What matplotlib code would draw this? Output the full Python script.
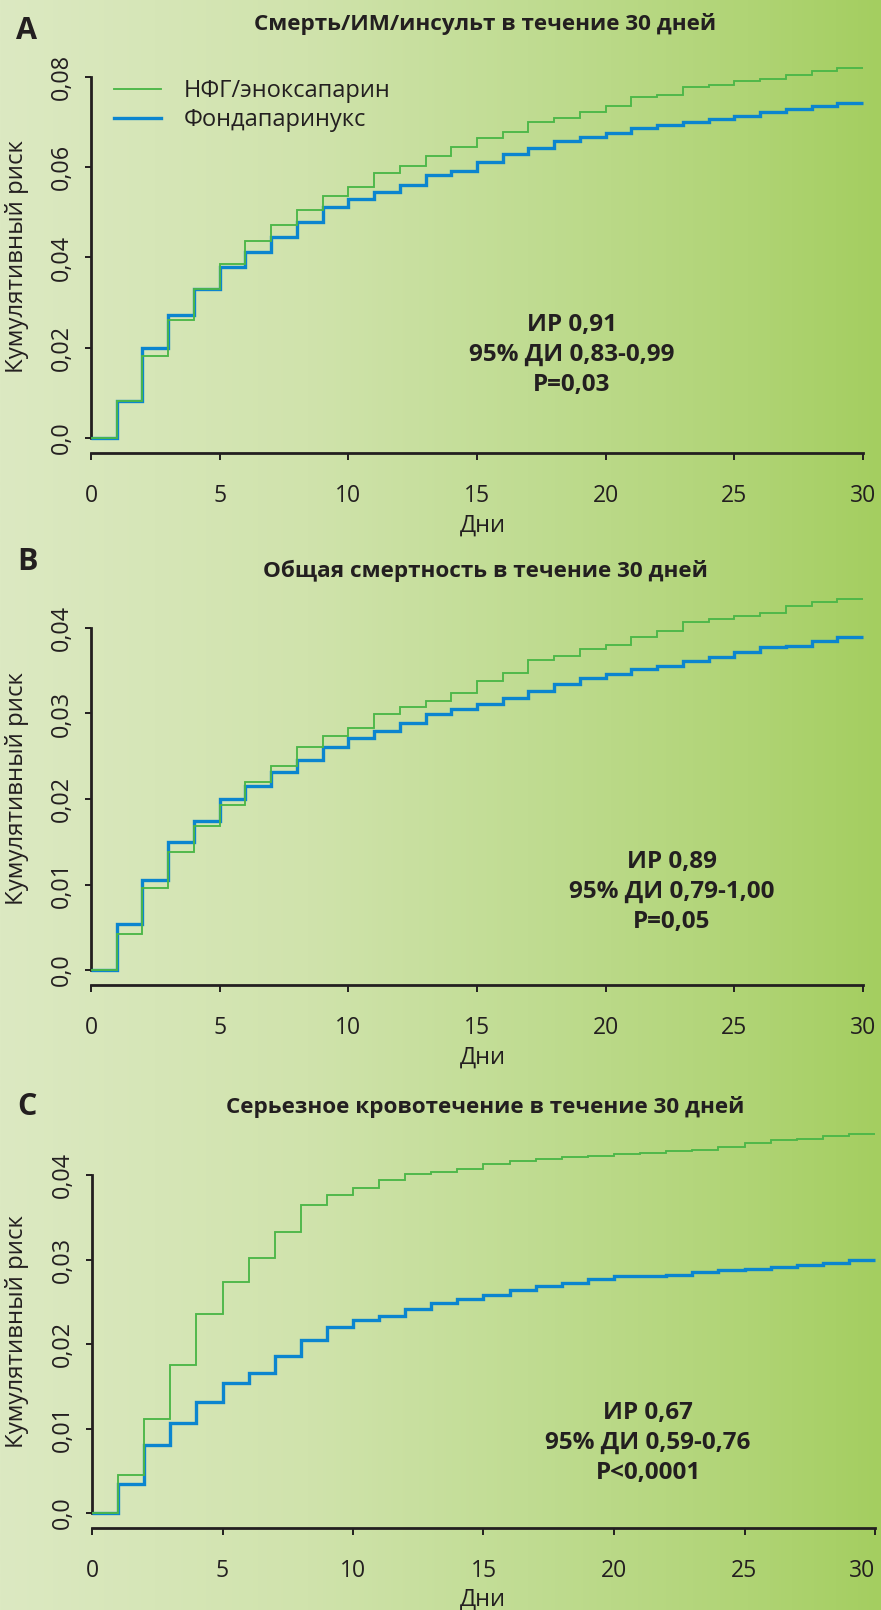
import numpy as np
import matplotlib
matplotlib.use('Agg')
import matplotlib.pyplot as plt

plt.rcParams['font.family'] = ['Open Sans', 'DejaVu Sans']

# дни наблюдения: границы ступенек 0..30
edges = np.arange(0, 31)

# A: смерть/ИМ/инсульт (уровень на интервале [d, d+1))
a_ufh = [0, 0.0081, 0.0182, 0.0262, 0.0331, 0.0386, 0.0437, 0.0471, 0.0505, 0.0536,
         0.0556, 0.0587, 0.0603, 0.0626, 0.0645, 0.0664, 0.0679, 0.0701, 0.0709, 0.0723,
         0.0736, 0.0755, 0.0760, 0.0777, 0.0783, 0.0791, 0.0795, 0.0805, 0.0813, 0.0820]
a_fonda = [0, 0.0081, 0.0199, 0.0273, 0.0330, 0.0380, 0.0412, 0.0446, 0.0479, 0.0511,
           0.0530, 0.0545, 0.0561, 0.0582, 0.0592, 0.0612, 0.0629, 0.0642, 0.0658, 0.0668,
           0.0677, 0.0687, 0.0693, 0.0700, 0.0706, 0.0714, 0.0723, 0.0729, 0.0736, 0.0743]

# B: общая смертность
b_ufh = [0, 0.0042, 0.0096, 0.0138, 0.0168, 0.0193, 0.0220, 0.0239, 0.0261, 0.0274,
         0.0283, 0.0299, 0.0308, 0.0315, 0.0324, 0.0338, 0.0347, 0.0363, 0.0367, 0.0376,
         0.0380, 0.0389, 0.0396, 0.0407, 0.0410, 0.0414, 0.0418, 0.0426, 0.0430, 0.0434]
b_fonda = [0, 0.0054, 0.0105, 0.0150, 0.0174, 0.0200, 0.0215, 0.0231, 0.0246, 0.0261,
           0.0271, 0.0279, 0.0289, 0.0299, 0.0305, 0.0311, 0.0318, 0.0326, 0.0334, 0.0342,
           0.0346, 0.0352, 0.0355, 0.0361, 0.0366, 0.0372, 0.0378, 0.0379, 0.0385, 0.0389]

# C: серьезное кровотечение
c_ufh = [0, 0.0045, 0.0111, 0.0175, 0.0235, 0.0273, 0.0302, 0.0332, 0.0365, 0.0376,
         0.0385, 0.0394, 0.0401, 0.0403, 0.0407, 0.0413, 0.0416, 0.0419, 0.0421, 0.0423,
         0.0425, 0.0426, 0.0428, 0.0430, 0.0433, 0.0438, 0.0441, 0.0443, 0.0446, 0.0448]
c_fonda = [0, 0.0034, 0.0081, 0.0106, 0.0131, 0.0154, 0.0166, 0.0186, 0.0205, 0.0220,
           0.0228, 0.0233, 0.0241, 0.0249, 0.0253, 0.0258, 0.0264, 0.0269, 0.0272, 0.0277,
           0.0281, 0.0281, 0.0282, 0.0285, 0.0287, 0.0289, 0.0291, 0.0293, 0.0296, 0.0300]

letters = ['A', 'B', 'C']
titles = ['Смерть/ИМ/инсульт в течение 30 дней',
          'Общая смертность в течение 30 дней',
          'Серьезное кровотечение в течение 30 дней']
stats = ['ИР 0,91\n95% ДИ 0,83-0,99\nP=0,03',
         'ИР 0,89\n95% ДИ 0,79-1,00\nP=0,05',
         'ИР 0,67\n95% ДИ 0,59-0,76\nP<0,0001']
yticks_list = [[0, 0.02, 0.04, 0.06, 0.08], [0, 0.01, 0.02, 0.03, 0.04], [0, 0.01, 0.02, 0.03, 0.04]]
ylabels_list = [['0,0', '0,02', '0,04', '0,06', '0,08'],
                ['0,0', '0,01', '0,02', '0,03', '0,04'],
                ['0,0', '0,01', '0,02', '0,03', '0,04']]
xticks = [0, 5, 10, 15, 20, 25, 30]
series = [(a_ufh, a_fonda), (b_ufh, b_fonda), (c_ufh, c_fonda)]
legend_labels = ['НФГ/эноксапарин', 'Фондапаринукс']

GREEN = '#4cb748'
BLUE = '#0b85cf'
INK = '#231f20'

W, H = 881, 1610
fig = plt.figure(figsize=(W / 100, H / 100), dpi=100)

# фон: градиент от бледного к зеленому
bg = fig.add_axes([0, 0, 1, 1], zorder=-10)
stops = [0.0, 0.35, 0.6, 0.85, 1.0]
cols = np.array([[220, 233, 194], [208, 227, 172], [192, 220, 146],
                 [176, 212, 117], [164, 206, 96]]) / 255
xs = np.linspace(0, 1, 300)
row = np.stack([np.interp(xs, stops, cols[:, k]) for k in range(3)], axis=1)
grad = np.repeat(row[None, :, :], 2, axis=0)
bg.imshow(grad, aspect='auto', extent=[0, 1, 0, 1])
bg.axis('off')

# позиции осей в пикселях: (левый край, правый край, верх, низ)
boxes = [(91, 863, 77, 438), (91, 863, 628, 970), (92, 875, 1175, 1513)]
letter_y = [31, 562, 1107]
title_y = [24, 571, 1107]
ylab_y = [257, 789, 1332]
xlab_y = [526, 1058, 1600]
stat_xy = [(572, 355), (672, 892), (648, 1443)]

for i in range(3):
    l, r, t, b = boxes[i]
    ax = fig.add_axes([l / W, 1 - b / H, (r - l) / W, (b - t) / H])
    ax.patch.set_alpha(0)
    ufh, fonda = series[i]
    ax.stairs(fonda, edges, baseline=None, color=BLUE, linewidth=2.4,
              clip_on=False, label=legend_labels[1], zorder=3)
    ax.stairs(ufh, edges, baseline=None, color=GREEN, linewidth=1.35,
              clip_on=False, label=legend_labels[0], zorder=4)
    ax.set_xlim(0, 30)
    ax.set_ylim(0, yticks_list[i][-1])

    for s in ['top', 'right']:
        ax.spines[s].set_visible(False)
    ax.spines['left'].set_bounds(0, yticks_list[i][-1])
    ax.spines['bottom'].set_position(('outward', 11))
    for s in ['left', 'bottom']:
        ax.spines[s].set_linewidth(2.0)
        ax.spines[s].set_color(INK)

    ax.set_yticks(yticks_list[i])
    ax.set_yticklabels(ylabels_list[i], rotation=90, va='center')
    ax.set_xticks(xticks)
    ax.set_xticklabels([str(v) for v in xticks])
    ax.tick_params(axis='y', length=4.5, width=1.4, color=INK, pad=8, labelsize=16.8, labelcolor=INK)
    ax.tick_params(axis='x', length=5, width=1.4, color=INK, pad=17, labelsize=16.5, labelcolor=INK)
    if i == 2:
        ax.get_xticklabels()[-1].set_horizontalalignment('right')

    fig.text(27 / W, 1 - letter_y[i] / H, letters[i], fontsize=22, fontweight='bold',
             color=INK, ha='center', va='center')
    fig.text(485 / W, 1 - title_y[i] / H, titles[i], fontsize=16.2, fontweight='bold',
             color=INK, ha='center', va='center')
    fig.text(17 / W, 1 - ylab_y[i] / H, 'Кумулятивный риск', fontsize=17.3, rotation=90,
             color=INK, ha='center', va='center')
    fig.text(483 / W, 1 - xlab_y[i] / H, 'Дни', fontsize=17, color=INK,
             ha='center', va='center')
    sx, sy = stat_xy[i]
    fig.text(sx / W, 1 - sy / H, stats[i], fontsize=17.5, fontweight='bold', color=INK,
             ha='center', va='center', linespacing=1.32)

    if i == 0:
        handles, labels = ax.get_legend_handles_labels()
        order = [labels.index(lbl) for lbl in legend_labels]
        ax.legend([handles[k] for k in order], [labels[k] for k in order],
                  loc='upper left', bbox_to_anchor=(114 / W, 1 - 79 / H),
                  bbox_transform=fig.transFigure, frameon=False, fontsize=17,
                  handlelength=2.0, handletextpad=0.95, labelspacing=0.22,
                  borderpad=0, borderaxespad=0, labelcolor=INK)

fig.savefig('out.png', dpi=100)
